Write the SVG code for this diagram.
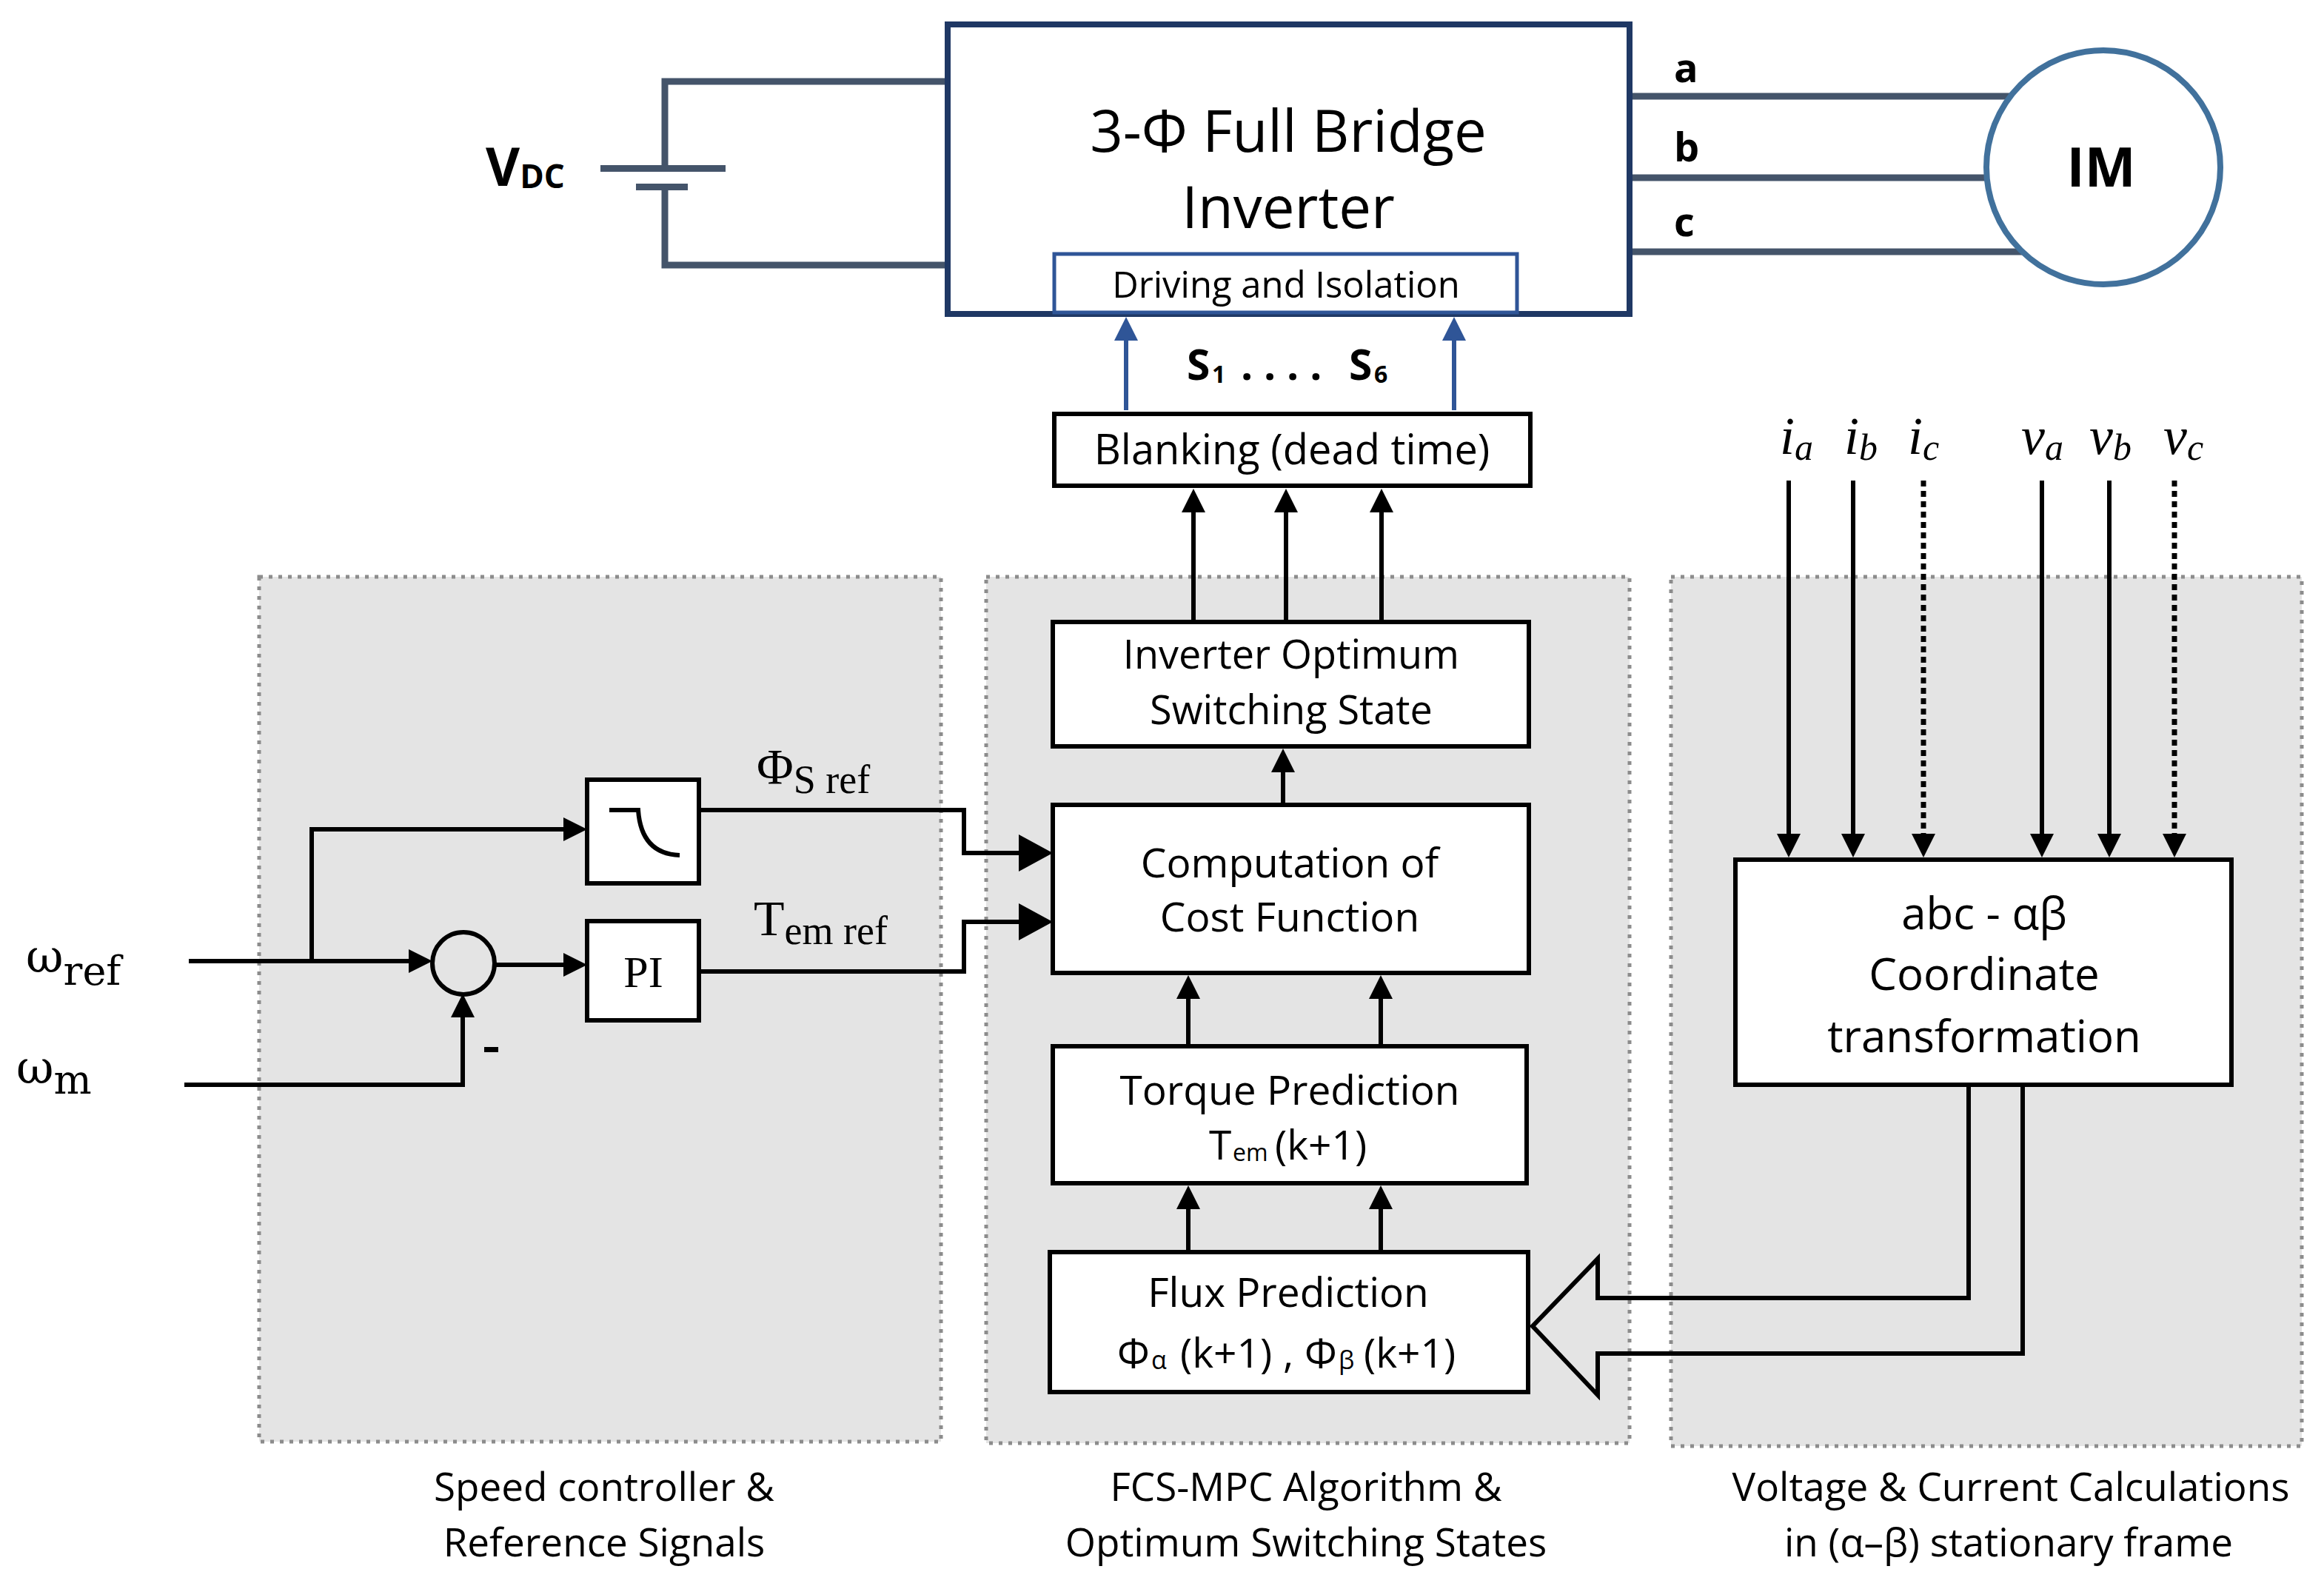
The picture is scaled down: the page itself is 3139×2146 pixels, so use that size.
<svg xmlns="http://www.w3.org/2000/svg" width="3139" height="2146" viewBox="0 0 3139 2146">
<style>
.sans{font-family:"Open Sans","Liberation Sans",sans-serif}
.serif{font-family:"Liberation Serif","DejaVu Serif",serif}
.dserif{font-family:"DejaVu Serif","Liberation Serif",serif}
.ital{font-family:"Liberation Serif","DejaVu Serif",serif;font-style:italic}
.box{fill:#fff;stroke:#000;stroke-width:6}
.panel{fill:#e4e4e4;stroke:#8c8c8c;stroke-width:5;stroke-dasharray:5 8}
.wire{fill:none;stroke:#44546a;stroke-width:9}
.conn{fill:none;stroke:#000;stroke-width:6}
.dotted{stroke-dasharray:8 6;stroke-width:7}
.blue{fill:none;stroke:#2f5597;stroke-width:6}
.t55{font-size:55px}
.cap{font-size:53px}
</style>
<defs>
<marker id="ah" markerUnits="userSpaceOnUse" viewBox="0 0 32 32" markerWidth="32" markerHeight="32" refX="22" refY="16" orient="auto"><path d="M0,0 L32,16 L0,32 z" fill="#000"/></marker>
<marker id="ahb" markerUnits="userSpaceOnUse" viewBox="0 0 32 32" markerWidth="32" markerHeight="32" refX="22" refY="16" orient="auto"><path d="M0,0 L32,16 L0,32 z" fill="#2f5597"/></marker>
<marker id="ahL" markerUnits="userSpaceOnUse" viewBox="0 0 46 50" markerWidth="46" markerHeight="50" refX="36" refY="25" orient="auto"><path d="M0,0 L46,25 L0,50 z" fill="#000"/></marker>
</defs>
<rect width="3139" height="2146" fill="#fff"/>

<g id="panels">
<rect class="panel" x="350" y="779" width="921" height="1168"/>
<rect class="panel" x="1332" y="779" width="869" height="1170"/>
<rect class="panel" x="2257" y="779" width="852" height="1174"/>
</g>

<g id="connectors">
<path class="wire" d="M1280,110 H898 V227"/>
<path class="wire" d="M811,227.5 H980"/>
<path class="wire" d="M859,252.5 H929"/>
<path class="wire" d="M898,252 V358 H1280"/>
<path class="wire" d="M2205,130 H2716"/>
<path class="wire" d="M2205,240 H2686"/>
<path class="wire" d="M2205,340 H2731"/>
<path class="blue" d="M1521,554 V438" marker-end="url(#ahb)"/>
<path class="blue" d="M1964,554 V438" marker-end="url(#ahb)"/>
<path class="conn" d="M1612,840 V670" marker-end="url(#ah)"/>
<path class="conn" d="M1737,840 V670" marker-end="url(#ah)"/>
<path class="conn" d="M1866,840 V670" marker-end="url(#ah)"/>
<path class="conn" d="M1733,1087 V1021" marker-end="url(#ah)"/>
<path class="conn" d="M1605,1413 V1327" marker-end="url(#ah)"/>
<path class="conn" d="M1865,1413 V1327" marker-end="url(#ah)"/>
<path class="conn" d="M1605,1691 V1611" marker-end="url(#ah)"/>
<path class="conn" d="M1865,1691 V1611" marker-end="url(#ah)"/>
<path class="conn" d="M255,1298 H574" marker-end="url(#ah)"/>
<path class="conn" d="M421,1298 V1120 H783" marker-end="url(#ah)"/>
<path class="conn" d="M668,1303 H783" marker-end="url(#ah)"/>
<path class="conn" d="M249,1465 H625 V1352" marker-end="url(#ah)"/>
<path class="conn" d="M944,1094 H1302 V1152 H1412" marker-end="url(#ahL)"/>
<path class="conn" d="M944,1312 H1302 V1245 H1412" marker-end="url(#ahL)"/>
<path class="conn" d="M2416,649 V1148" marker-end="url(#ah)"/>
<path class="conn" d="M2503,649 V1148" marker-end="url(#ah)"/>
<path class="conn dotted" d="M2598,649 V1148" marker-end="url(#ah)"/>
<path class="conn" d="M2758,649 V1148" marker-end="url(#ah)"/>
<path class="conn" d="M2849,649 V1148" marker-end="url(#ah)"/>
<path class="conn dotted" d="M2937,649 V1148" marker-end="url(#ah)"/>
<path class="conn" d="M2659,1465 V1753 H2158 V1700 L2070,1791 L2158,1884 V1828 H2732 V1465"/>
</g>

<g id="vdc">
<text class="sans" x="656" y="251" font-size="71" font-weight="700">V<tspan font-size="44" dy="3">DC</tspan></text>
</g>

<g id="inverter">
<rect x="1280" y="33" width="921" height="391" fill="#fff" stroke="#1f3864" stroke-width="8"/>
<text class="sans" x="1740" y="205" font-size="78" text-anchor="middle">3-Φ Full Bridge</text>
<text class="sans" x="1740" y="308" font-size="78" text-anchor="middle">Inverter</text>
</g>

<g id="driving">
<rect x="1424" y="343" width="625" height="79" fill="#fff" stroke="#2f5597" stroke-width="5"/>
<text class="sans" x="1737" y="402" font-size="49" text-anchor="middle">Driving and Isolation</text>
</g>

<g id="motor">
<circle cx="2841" cy="226" r="158" fill="#fff" stroke="#41719c" stroke-width="8"/>
<text class="sans" x="2838" y="252" font-size="73" font-weight="700" text-anchor="middle">IM</text>
</g>

<g id="phase-labels">
<text class="sans" x="2261" y="111" font-size="54" font-weight="700">a</text>
<text class="sans" x="2261" y="218" font-size="54" font-weight="700">b</text>
<text class="sans" x="2261" y="319" font-size="54" font-weight="700">c</text>
</g>

<g id="switch-label">
<text class="sans" y="513" font-size="57" font-weight="700"><tspan x="1603">S</tspan><tspan x="1637" font-size="32" dy="4">1</tspan><tspan x="1676" dy="-4">. . . .</tspan><tspan x="1822">S</tspan><tspan x="1856" font-size="32" dy="4">6</tspan></text>
</g>

<g id="blanking">
<rect class="box" x="1424" y="559" width="643" height="97" stroke-width="7"/>
<text class="sans" x="1745" y="627" font-size="56" text-anchor="middle">Blanking (dead time)</text>
</g>

<g id="optimum">
<rect class="box" x="1422" y="840" width="643" height="168"/>
<text class="sans" x="1744" y="903" font-size="54" text-anchor="middle">Inverter Optimum</text>
<text class="sans" x="1744" y="978" font-size="54" text-anchor="middle">Switching State</text>
</g>

<g id="cost">
<rect class="box" x="1422" y="1087" width="643" height="227"/>
<text class="sans t55" x="1742" y="1185" text-anchor="middle">Computation of</text>
<text class="sans t55" x="1742" y="1258" text-anchor="middle">Cost Function</text>
</g>

<g id="torque">
<rect class="box" x="1422" y="1413" width="640" height="185"/>
<text class="sans t55" x="1742" y="1492" text-anchor="middle">Torque Prediction</text>
<text class="sans t55" y="1566"><tspan x="1633">T</tspan><tspan x="1665" font-size="32" dy="2">em</tspan><tspan x="1722" dy="-2">(k+1)</tspan></text>
</g>

<g id="flux">
<rect class="box" x="1418" y="1691" width="646" height="189"/>
<text class="sans t55" x="1740" y="1765" text-anchor="middle">Flux Prediction</text>
<text class="sans t55" y="1847"><tspan x="1509">Φ</tspan><tspan x="1555" font-size="34" dy="2">α</tspan><tspan x="1594" dy="-2">(k+1)</tspan><tspan x="1733">,</tspan><tspan x="1762">Φ</tspan><tspan x="1808" font-size="34" dy="2">β</tspan><tspan x="1842" dy="-2">(k+1)</tspan></text>
</g>

<g id="abc">
<rect class="box" x="2344" y="1161" width="670" height="304"/>
<text class="sans" x="2680" y="1255" font-size="60" text-anchor="middle">abc - αβ</text>
<text class="sans" x="2680" y="1337" font-size="60" text-anchor="middle">Coordinate</text>
<text class="sans" x="2680" y="1421" font-size="60" text-anchor="middle">transformation</text>
</g>

<g id="measure-labels">
<text class="ital" x="2404" y="613" font-size="72">i<tspan font-size="50" dy="8">a</tspan></text>
<text class="ital" x="2491" y="613" font-size="72">i<tspan font-size="50" dy="8">b</tspan></text>
<text class="ital" x="2577" y="613" font-size="72">i<tspan font-size="50" dy="8">c</tspan></text>
<text class="ital" x="2730" y="613" font-size="72">v<tspan font-size="50" dy="8">a</tspan></text>
<text class="ital" x="2822" y="613" font-size="72">v<tspan font-size="50" dy="8">b</tspan></text>
<text class="ital" x="2922" y="613" font-size="72">v<tspan font-size="50" dy="8">c</tspan></text>
</g>

<g id="filter">
<rect class="box" x="793" y="1053" width="151" height="140"/>
<path class="conn" d="M823,1094 H862 Q866,1153 918,1155"/>
</g>

<g id="pi">
<rect class="box" x="793" y="1244" width="151" height="134"/>
<text class="serif" x="869" y="1333" font-size="60" text-anchor="middle">PI</text>
</g>

<g id="sum">
<circle cx="626" cy="1301" r="42" fill="none" stroke="#000" stroke-width="6"/>
<rect x="654" y="1414" width="19" height="7" fill="#000"/>
</g>

<g id="signal-labels">
<text class="dserif" x="35" y="1313" font-size="62">ω<tspan font-size="54" dy="17">ref</tspan></text>
<text class="dserif" x="22" y="1463" font-size="62">ω<tspan font-size="54" dy="14">m</tspan></text>
<text class="serif" x="1022" y="1058" font-size="68">Φ<tspan font-size="54" dy="13">S ref</tspan></text>
<text class="serif" x="1018" y="1263" font-size="68">T<tspan font-size="54" dy="12">em ref</tspan></text>
</g>

<g id="captions">
<text class="sans cap" x="816" y="2027" text-anchor="middle">Speed controller &amp;</text>
<text class="sans cap" x="816" y="2102" text-anchor="middle">Reference Signals</text>
<text class="sans cap" x="1764" y="2027" text-anchor="middle">FCS-MPC Algorithm &amp;</text>
<text class="sans cap" x="1764" y="2102" text-anchor="middle">Optimum Switching States</text>
<text class="sans cap" x="2716" y="2027" text-anchor="middle">Voltage &amp; Current Calculations</text>
<text class="sans cap" x="2713" y="2102" text-anchor="middle">in (α–β) stationary frame</text>
</g>
</svg>
